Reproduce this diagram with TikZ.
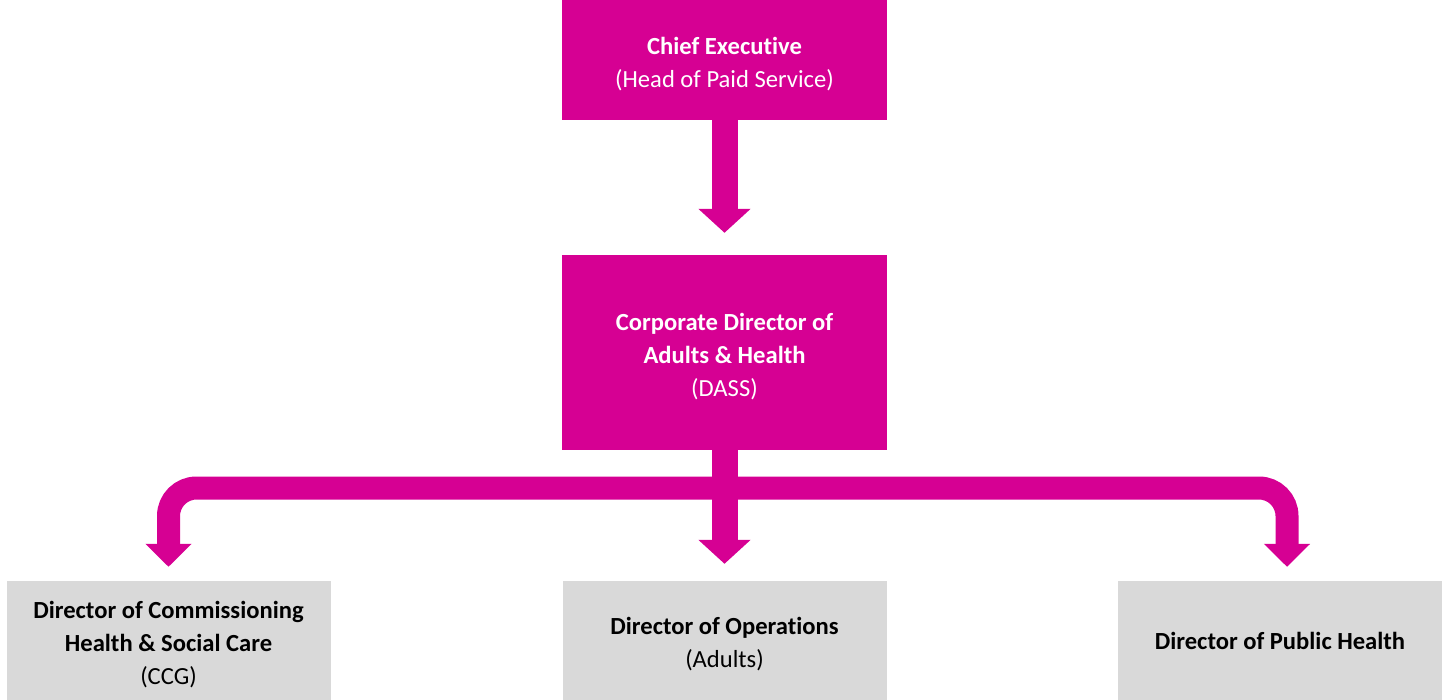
\documentclass[tikz,border=0pt]{standalone}
\usepackage{fontspec}
\setmainfont{Carlito}[Ligatures=NoCommon]
\usetikzlibrary{arrows.meta}
\definecolor{mag}{RGB}{214,0,147}
\definecolor{boxgrey}{RGB}{217,217,217}
\newcommand{\topstrut}{\rule{0pt}{24.5pt}}
\begin{document}
\begin{tikzpicture}[x=1pt,y=-1pt,
  magbox/.style={fill=mag,text=white,minimum width=325pt,inner sep=0pt,align=center,font=\fontsize{24.6}{33}\selectfont},
  greybox/.style={fill=boxgrey,text=black,minimum width=324pt,minimum height=119pt,inner sep=0pt,align=center,font=\fontsize{24.6}{33}\selectfont},
  mainarrow/.style={draw=mag,line width=26pt,-{Triangle[width=51pt,length=24pt]},fill=mag},
  sidearrow/.style={draw=mag,line width=23pt,rounded corners=28pt,-{Triangle[width=45pt,length=23pt]}}
]
\useasboundingbox (0,0) rectangle (1443,700);
\node[magbox,minimum height=120pt] (ceo) at (724.5,60) {\topstrut\textbf{Chief Executive}\\(Head of Paid Service)};
\node[magbox,minimum height=195pt] (dir) at (724.5,352.5) {\topstrut\textbf{Corporate Director of}\\\textbf{Adults \& Health}\\(DASS)};
\node[greybox] (ccg) at (168.5,640.5) {\topstrut\textbf{Director of Commissioning}\\\textbf{Health \& Social Care}\\(CCG)};
\node[greybox] (ops) at (724.5,640.5) {\topstrut\textbf{Director of Operations}\\(Adults)};
\node[greybox] (ph) at (1280,640.5) {\textbf{Director of Public Health}};
\coordinate (bar) at (724.5,488);
\draw[sidearrow] (bar) -| ([yshift=14pt]ccg.north);
\draw[sidearrow] (bar) -| ([yshift=14pt,xshift=7pt]ph.north);
\draw[mainarrow] (ceo.south) -- ([yshift=22pt]dir.north);
\draw[mainarrow] (dir.south) -- ([yshift=17pt]ops.north);
\end{tikzpicture}
\end{document}
